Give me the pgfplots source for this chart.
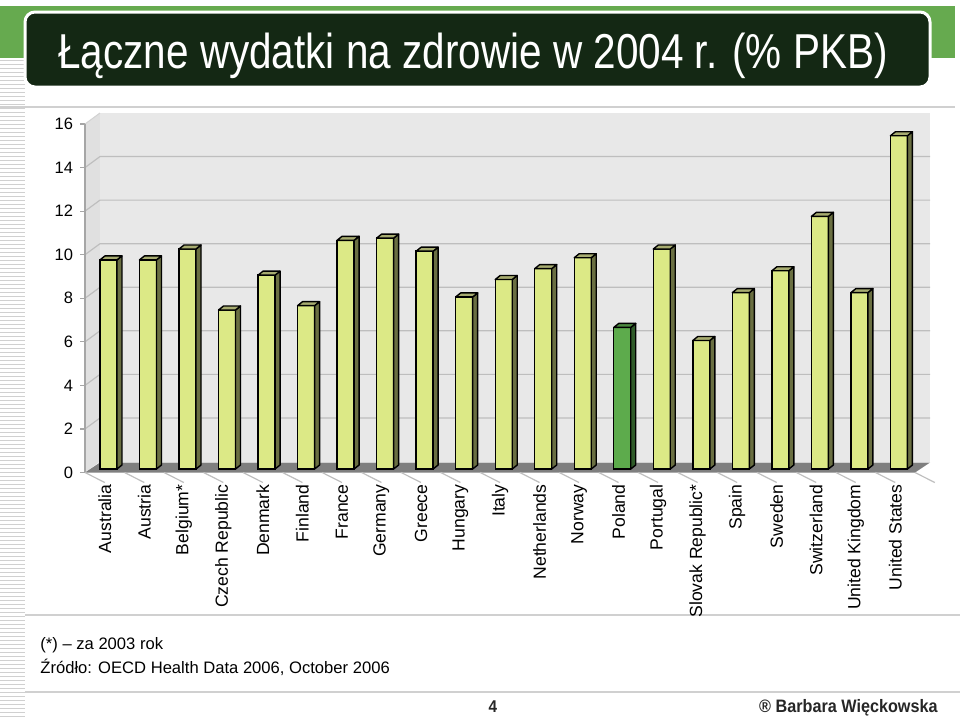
\documentclass[border=0pt]{standalone}
\usepackage{pgfplots}
\pgfplotsset{compat=1.18}
\usepackage{pgfplotstable}
\usepackage{fontspec}
\setmainfont{Liberation Sans}
\newfontfamily\narrowfont{Liberation Sans}[FakeStretch=0.826]
\newfontfamily\namefont{Liberation Sans}[FakeStretch=0.9]
\definecolor{titlebg}{HTML}{142814}
\definecolor{band}{HTML}{66AA4F}
\definecolor{frontc}{HTML}{DCE986}
\definecolor{sidec}{HTML}{6A6F42}
\definecolor{topc}{HTML}{A7AC70}
\definecolor{plfront}{HTML}{5DAB4C}
\definecolor{plside}{HTML}{2F5B29}
\definecolor{pltop}{HTML}{4C8A40}
\definecolor{wall}{HTML}{E8E8E8}
\definecolor{lwall}{HTML}{E0E0E0}
\definecolor{floorc}{HTML}{7F7F7F}
\definecolor{gridc}{HTML}{BEBEBE}
\definecolor{sep}{HTML}{D0D0D0}

\pgfplotstableread{
x v
0 9.6
1 9.6
2 10.1
3 7.3
4 8.9
5 7.5
6 10.5
7 10.6
8 10.0
9 7.9
10 8.7
11 9.2
12 9.7
14 10.1
15 5.9
16 8.1
17 9.1
18 11.6
19 8.1
20 15.3
}\others
\pgfplotstableread{
x v
13 6.5
}\poland

\newcommand\yk{10.890625pt}
\pgfplotsset{
  faces3d/.style 2 args={
    only marks, scatter, mark=*, mark size=0pt, mark options={draw=none,fill=none},
    visualization depends on={y \as \val},
    scatter/@pre marker code/.code={%
      \pgfmathsetlengthmacro\hb{-\val*\yk}%
      \pgfmathsetlengthmacro\hc{2pt-\val*\yk}%
      \filldraw[fill=#1, draw=black, line width=0.7pt, line join=round]
        (4.25pt,0pt) -- (6.75pt,2pt) -- (6.75pt,\hc) -- (4.25pt,\hb) -- cycle;
      \filldraw[fill=#2, draw=black, line width=0.7pt, line join=round]
        (-4.25pt,0pt) -- (4.25pt,0pt) -- (6.75pt,2pt) -- (-1.75pt,2pt) -- cycle;
    },
    scatter/@post marker code/.code={},
  },
  frontbar/.style={ybar, bar width=8.5pt, bar shift=0pt, draw=black, line width=0.7pt, fill=#1},
}

\begin{document}
\begin{tikzpicture}
\useasboundingbox (0,0) rectangle (480pt,360pt);
\fill[white] (0,0) rectangle (480pt,360pt);
% left stripes
\foreach \s in {0,...,164} {
  \draw[sep, line width=0.5pt] (0,{330pt-\s*2pt}) -- (12.5pt,{330pt-\s*2pt});
}
% green band
\fill[band] (0,357pt) rectangle (477.5pt,331pt);
% title box
\filldraw[fill=titlebg, draw=white, line width=1.5pt, rounded corners=5pt] (12.5pt,354pt) rectangle (465pt,316.5pt);
\node[anchor=base, text=white, font=\narrowfont\fontsize{24.5}{29}\selectfont, inner sep=0pt] at (236.5pt,326pt) {Łączne wydatki na zdrowie w 2004 r. (\% PKB)};
% separator lines
\draw[sep, line width=1pt] (0pt,306.5pt) -- (477.5pt,306.5pt);
\draw[sep, line width=1pt] (12.5pt,52.5pt) -- (480pt,52.5pt);
\draw[sep, line width=1pt] (12.5pt,14pt) -- (480pt,14pt);

\begin{axis}[
  at={(42.5pt,123.75pt)}, anchor=south west,
  scale only axis, width=415pt, height=174.25pt,
  xmin=-0.5, xmax=20.5, ymin=0, ymax=16,
  axis line style={draw=none},
  clip=false,
  ytick={0,2,...,16},
  xtick={0,...,20},
  xticklabels={Australia,Austria,Belgium*,Czech Republic,Denmark,Finland,France,Germany,Greece,Hungary,Italy,Netherlands,Norway,Poland,Portugal,Slovak Republic*,Spain,Sweden,Switzerland,United Kingdom,United States},
  xtick pos=left, ytick pos=left,
  tick align=outside, major tick length=2.5pt,
  xtick style={draw=none},
  ytick style={draw=gray!70, line width=0.6pt},
  /pgf/number format/assume math mode=true,
  yticklabel style={font=\fontsize{8.25}{10}\selectfont},
  xticklabel style={rotate=90, anchor=east, font=\fontsize{8.8}{10}\selectfont},
]
\fill[lwall] (axis cs:-0.5,0) -- (axis cs:-0.5,16) -- ([shift={(7.5pt,5.5pt)}]axis cs:-0.5,16) -- ([shift={(7.5pt,5.5pt)}]axis cs:-0.5,0) -- cycle;
\fill[wall] ([shift={(7.5pt,5.5pt)}]axis cs:-0.5,0) rectangle ([shift={(7.5pt,5.5pt)}]axis cs:20.5,16);
\pgfplotsinvokeforeach{2,4,...,14}{
  \draw[gridc, line width=0.6pt] (axis cs:-0.5,#1) -- ([shift={(7.5pt,5.5pt)}]axis cs:-0.5,#1) -- ([shift={(7.5pt,5.5pt)}]axis cs:20.5,#1);
}
\draw[gridc!70, line width=0.5pt] (axis cs:-0.5,16) -- ([shift={(7.5pt,5.5pt)}]axis cs:-0.5,16);
\fill[floorc] (axis cs:-0.5,0) -- (axis cs:20.5,0) -- ([shift={(7.5pt,5pt)}]axis cs:20.5,0) -- ([shift={(7.5pt,5pt)}]axis cs:-0.5,0) -- cycle;
\draw[gray!70, line width=0.6pt] (axis cs:-0.5,0) -- (axis cs:-0.5,16);
\pgfplotsinvokeforeach{0,...,21}{
  \draw[gray!50, line width=0.6pt] (axis cs:#1-0.5,0) -- ++(0,-5pt);
}
\end{axis}

\begin{axis}[
  at={(44.35pt,125.5pt)}, anchor=south west,
  scale only axis, width=415pt, height=174.25pt,
  xmin=-0.5, xmax=20.5, ymin=0, ymax=16,
  hide axis, clip=false,
]
\addplot[frontbar=frontc] table[x=x,y=v]{\others};
\addplot[frontbar=plfront] table[x=x,y=v]{\poland};
\addplot[faces3d={sidec}{topc}] table[x=x,y=v]{\others};
\addplot[faces3d={plside}{pltop}] table[x=x,y=v]{\poland};
\end{axis}

% footnotes
\node[anchor=base west, inner sep=0pt, font=\fontsize{8.3}{10}\selectfont] at (20pt,35.5pt) {(*) – za 2003 rok};
\node[anchor=base west, inner sep=0pt, font=\fontsize{8.3}{10}\selectfont] at (20pt,23.5pt) {Źródło: OECD Health Data 2006, October 2006};
\node[anchor=base, inner sep=0pt, font=\namefont\bfseries\fontsize{8.5}{10}\selectfont, text=black!85] at (246.5pt,4pt) {4};
\node[anchor=base east, inner sep=0pt, font=\namefont\bfseries\fontsize{9}{10}\selectfont, text=black!85] at (469pt,4pt) {® Barbara Więckowska};
\end{tikzpicture}
\end{document}
